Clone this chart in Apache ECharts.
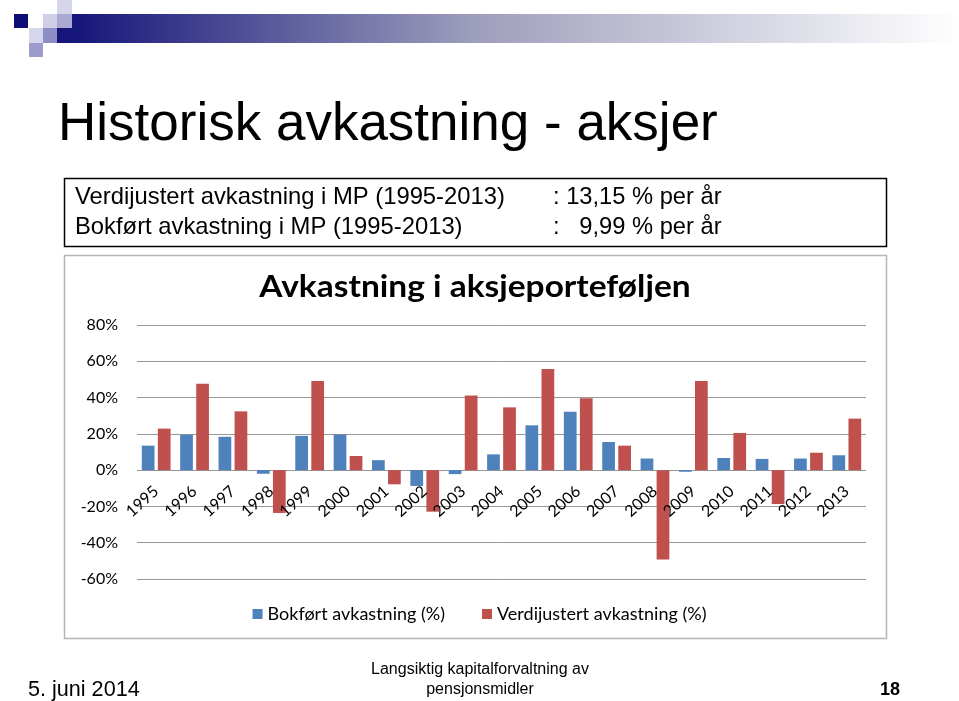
<!DOCTYPE html>
<html>
<head>
<meta charset="utf-8">
<script src="https://cdn.jsdelivr.net/npm/echarts@6/dist/echarts.min.js"></script>
<style>
html,body{margin:0;padding:0;background:#fff;}
#c{width:959px;height:701px;}
</style>
</head>
<body>
<div id="c"></div>
<script>
// ---- data ----
var years = ['1995','1996','1997','1998','1999','2000','2001','2002','2003','2004','2005','2006','2007','2008','2009','2010','2011','2012','2013'];
var bokfort = [13.5, 19.5, 18.4, -2.0, 18.9, 19.6, 5.5, -8.7, -2.2, 8.7, 24.7, 32.2, 15.5, 6.4, -0.9, 6.7, 6.2, 6.4, 8.2];
var verdijustert = [22.9, 47.6, 32.4, -23.6, 49.1, 7.8, -7.8, -22.9, 41.1, 34.6, 55.8, 39.6, 13.5, -49.3, 49.1, 20.5, -18.7, 9.6, 28.4];
var seriesNames = ['Bokført avkastning (%)', 'Verdijustert avkastning (%)'];
var slideTitle = 'Historisk avkastning - aksjer';
var chartTitle = 'Avkastning i aksjeporteføljen';
var boxLines = [
  ['Verdijustert avkastning i MP (1995-2013)', ': 13,15 % per år'],
  ['Bokført avkastning i MP (1995-2013)', ':   9,99 % per år']
];
var footerLeft = '5. juni 2014';
var footerCenter = ['Langsiktig kapitalforvaltning av', 'pensjonsmidler'];
var footerRight = '18';

var chart = echarts.init(document.getElementById('c'), null, {renderer:'canvas'});
var cf = 'Lato, "Open Sans", sans-serif';
var af = '"Liberation Sans", Arial, sans-serif';

var graphics = [
  // gradient bar
  {type:'rect', shape:{x:72,y:14,width:887,height:29}, style:{fill:new echarts.graphic.LinearGradient(0,0,1,0,[{offset:0,color:'#15157a'},{offset:0.45,color:'#9d9dbc'},{offset:1,color:'#ffffff'}])}, z:0},
  {type:'rect', shape:{x:57,y:28,width:15,height:15}, style:{fill:'#15157a'}},
  {type:'rect', shape:{x:57,y:0,width:15,height:14}, style:{fill:'#d4d4ea'}},
  {type:'rect', shape:{x:43,y:14,width:14,height:14}, style:{fill:'#cfcfe8'}},
  {type:'rect', shape:{x:57,y:14,width:15,height:14}, style:{fill:'#a9a9d2'}},
  {type:'rect', shape:{x:14,y:14,width:14,height:14}, style:{fill:'#0d0d78'}},
  {type:'rect', shape:{x:29,y:28,width:14,height:15}, style:{fill:'#d6d6ec'}},
  {type:'rect', shape:{x:43,y:28,width:14,height:15}, style:{fill:'#8e8ec6'}},
  {type:'rect', shape:{x:29,y:43,width:14,height:14}, style:{fill:'#9c9ccc'}},
  // slide title
  {type:'text', left:58, top:99, style:{text:slideTitle, font:'53px '+af, fill:'#000'}},
  // box
  {type:'rect', shape:{x:64.5,y:178.5,width:822,height:68}, style:{fill:'none', stroke:'#000', lineWidth:1.5}},
  {type:'text', x:75, y:197, style:{text:boxLines[0][0], font:'23.8px '+af, fill:'#000', verticalAlign:'middle'}},
  {type:'text', x:553, y:197, style:{text:boxLines[0][1], font:'23.7px '+af, fill:'#000', verticalAlign:'middle'}},
  {type:'text', x:75, y:227, style:{text:boxLines[1][0], font:'23.8px '+af, fill:'#000', verticalAlign:'middle'}},
  {type:'text', x:553, y:227, style:{text:boxLines[1][1], font:'23.7px '+af, fill:'#000', verticalAlign:'middle'}},
  // chart border
  {type:'rect', shape:{x:64.5,y:255.5,width:822,height:383}, style:{fill:'none', stroke:'#b5b5b5', lineWidth:1.5}},
  // chart title
  {type:'text', x:475, y:287, scaleX:1.08, style:{text:chartTitle, font:'bold 31px '+cf, fill:'#000', align:'center', verticalAlign:'middle'}},
  // footer
  {type:'text', x:28, y:690, style:{text:footerLeft, font:'21.6px '+af, fill:'#000', verticalAlign:'middle'}},
  {type:'text', x:480, y:670, style:{text:footerCenter[0], font:'16px '+af, fill:'#000', align:'center', verticalAlign:'middle'}},
  {type:'text', x:480, y:690, style:{text:footerCenter[1], font:'16px '+af, fill:'#000', align:'center', verticalAlign:'middle'}},
  {type:'text', x:900, y:690, style:{text:footerRight, font:'bold 18px '+af, fill:'#000', align:'right', verticalAlign:'middle'}}
];

chart.setOption({
  animation:false,
  backgroundColor:'#fff',
  legend:{
    left:'center', top:600, itemWidth:10, itemHeight:10, itemGap:37,
    icon:'rect', textStyle:{fontFamily:cf, fontSize:18, color:'#000'}, data:seriesNames
  },
  grid:{left:137, right:93, top:325, bottom:122, containLabel:false},
  xAxis:{
    type:'category', data:years, position:'bottom', offset:-109, z:10,
    axisLine:{show:false, onZero:false}, axisTick:{show:false},
    axisLabel:{rotate:42, margin:19, fontFamily:cf, fontSize:16, color:'#000', interval:0}
  },
  yAxis:{
    type:'value', min:-60, max:80, interval:20,
    axisLine:{show:false}, axisTick:{show:false},
    axisLabel:{formatter:'{value}%', fontFamily:cf, fontSize:16, color:'#000', margin:19},
    splitLine:{lineStyle:{color:'#989898', width:1}}
  },
  series:[
    {name:seriesNames[0], type:'bar', data:bokfort, itemStyle:{color:'#4F81BD'}, barGap:'26%', barCategoryGap:'25%'},
    {name:seriesNames[1], type:'bar', data:verdijustert, itemStyle:{color:'#C0504D'}}
  ],
  graphic:graphics
});
</script>
</body>
</html>
